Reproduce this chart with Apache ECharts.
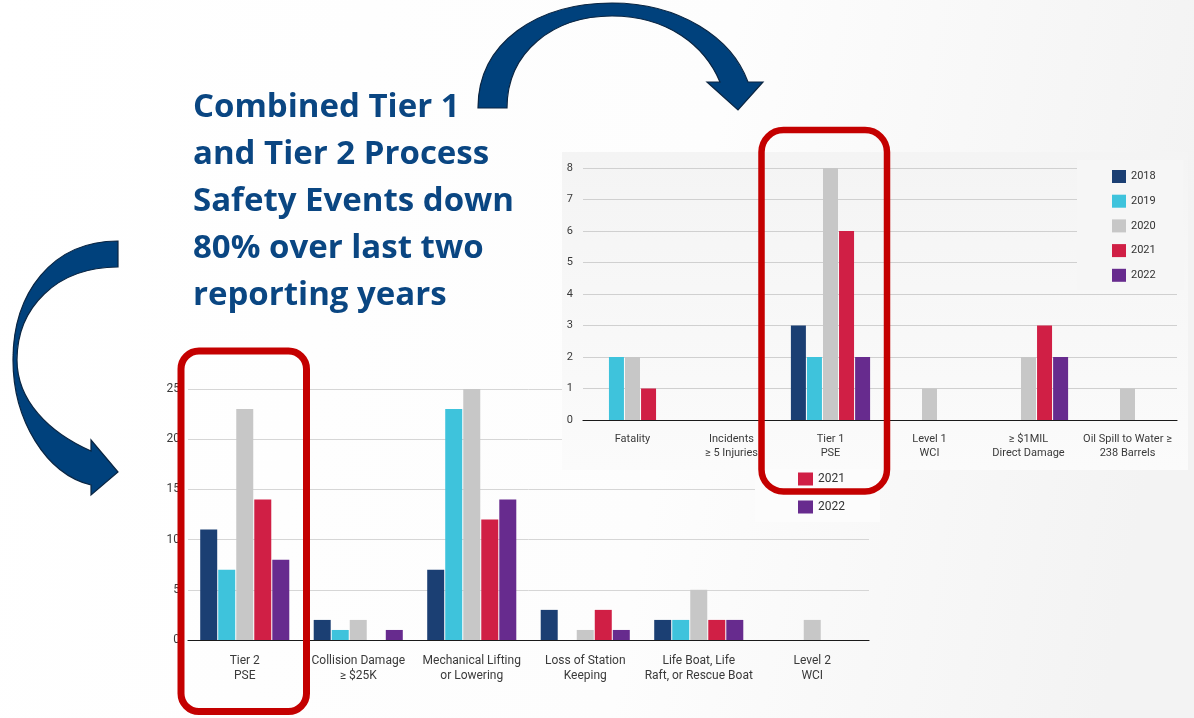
<!DOCTYPE html>
<html>
<head>
<meta charset="utf-8">
<script src="https://cdn.jsdelivr.net/npm/echarts@6/dist/echarts.min.js"></script>
<style>
html,body{margin:0;padding:0;background:#fff;}
#chart{width:1194px;height:718px;}
</style>
</head>
<body>
<div id="chart"></div>
<script>
// ---- data ----
const years = ['2018', '2019', '2020', '2021', '2022'];
const yearColors = ['#1b3f73', '#3ec3dc', '#c7c7c7', '#d01f45', '#672b8e'];

// Top chart (Tier 1 etc.)
const topCategories = ['Fatality', 'Incidents\n≥ 5 Injuries', 'Tier 1\nPSE', 'Level 1\nWCI', '≥ $1MIL\nDirect Damage', 'Oil Spill to Water ≥\n238 Barrels'];
const top2018 = [0, 0, 3, 0, 0, 0];
const top2019 = [2, 0, 2, 0, 0, 0];
const top2020 = [2, 0, 8, 1, 2, 1];
const top2021 = [1, 0, 6, 0, 3, 0];
const top2022 = [0, 0, 2, 0, 2, 0];
const topYTicks = { min: 0, max: 8, interval: 1 };

// Bottom chart (Tier 2 etc.)
const bottomCategories = ['Tier 2\nPSE', 'Collision Damage\n≥ $25K', 'Mechanical Lifting\nor Lowering', 'Loss of Station\nKeeping', 'Life Boat, Life\nRaft, or Rescue Boat', 'Level 2\nWCI'];
const bottom2018 = [11, 2, 7, 3, 2, 0];
const bottom2019 = [7, 1, 23, 0, 2, 0];
const bottom2020 = [23, 2, 25, 1, 5, 2];
const bottom2021 = [14, 0, 12, 3, 2, 0];
const bottom2022 = [8, 1, 14, 1, 2, 0];
const bottomYTicks = { min: 0, max: 25, interval: 5 };

const headline = ['Combined Tier 1', 'and Tier 2 Process', 'Safety Events down', '80% over last two', 'reporting years'];

// ---- decorative shapes ----
echarts.graphic.registerShape('arrowTop', echarts.graphic.extendPath(
  'M478,108 C478,42 538,3 612,3 C680,3 732,38 748,82 L763,82 L738,110 L707,82 L720,82 C705,46 668,16 612,16 C553,16 507,52 507,108 Z', {}));
echarts.graphic.registerShape('arrowLeft', echarts.graphic.extendPath(
  'M118,241 C52,241 13,293 13,360 C13,420 46,474 91,485 L91,495 L118,472 L91,440 L91,451 C48,432 17,400 17,360 C17,308 56,267 118,267 Z', {}));

// ---- chart ----
const chart = echarts.init(document.getElementById('chart'), null, { renderer: 'canvas' });
const topData = [top2018, top2019, top2020, top2021, top2022];
const bottomData = [bottom2018, bottom2019, bottom2020, bottom2021, bottom2022];
const FONT = 'Roboto';

const series = [];
years.forEach((y, i) => {
  series.push({
    name: y, type: 'bar', xAxisIndex: 0, yAxisIndex: 0, z: 1,
    data: bottomData[i], barWidth: 17, barGap: '6%',
    itemStyle: { color: yearColors[i] }
  });
});
years.forEach((y, i) => {
  series.push({
    name: y, type: 'bar', xAxisIndex: 1, yAxisIndex: 1, z: 5,
    data: topData[i], barWidth: 15, barGap: '7%',
    itemStyle: { color: yearColors[i] }
  });
});

const headlineEls = headline.map((t, i) => ({
  type: 'text', z: 20, x: 193, y: 108 + i * 47,
  style: { text: t, fill: '#0a4682', fontFamily: 'Open Sans', fontWeight: 'bold', fontSize: 33, verticalAlign: 'middle', align: 'left' }
}));

const arrowStyle = { fill: '#00417c', stroke: '#0a2542', lineWidth: 1.2 };

const option = {
  animation: false,
  textStyle: { fontFamily: FONT },
  grid: [
    { left: 188, top: 389, width: 681, height: 251 },
    { left: 583, top: 168, width: 594, height: 252 }
  ],
  xAxis: [
    {
      type: 'category', gridIndex: 0, data: bottomCategories, z: 0,
      axisLine: { lineStyle: { color: '#1a1a1a', width: 1.2 } },
      axisTick: { show: false },
      axisLabel: { color: '#3a3a3a', fontSize: 12, lineHeight: 15, margin: 13, interval: 0, fontFamily: FONT }
    },
    {
      type: 'category', gridIndex: 1, data: topCategories, z: 4,
      axisLine: { lineStyle: { color: '#1a1a1a', width: 1.2 } },
      axisTick: { show: false },
      axisLabel: { color: '#3a3a3a', fontSize: 11, lineHeight: 14, margin: 12, interval: 0, fontFamily: FONT }
    }
  ],
  yAxis: [
    {
      type: 'value', gridIndex: 0, z: 0,
      min: bottomYTicks.min, max: bottomYTicks.max, interval: bottomYTicks.interval,
      axisLine: { show: false }, axisTick: { show: false },
      axisLabel: { color: '#3a3a3a', fontSize: 12, margin: 8, fontFamily: FONT },
      splitLine: { lineStyle: { color: '#d6d6d6', width: 1 } }
    },
    {
      type: 'value', gridIndex: 1, z: 4,
      min: topYTicks.min, max: topYTicks.max, interval: topYTicks.interval,
      axisLine: { show: false }, axisTick: { show: false },
      axisLabel: { color: '#3a3a3a', fontSize: 11, margin: 10, fontFamily: FONT },
      splitLine: { lineStyle: { color: '#d0d0d0', width: 1 } }
    }
  ],
  legend: [
    {
      data: years, orient: 'vertical', left: 1077, top: 160, z: 6,
      padding: [10, 28, 8, 35], backgroundColor: '#f6f6f6',
      itemWidth: 14, itemHeight: 13, itemGap: 11.7,
      icon: 'rect',
      textStyle: { color: '#333', fontSize: 11, fontFamily: FONT }
    },
    {
      data: ['2021', '2022'], orient: 'vertical', left: 798, top: 472.5, z: 6,
      padding: 0,
      itemWidth: 15, itemHeight: 13, itemGap: 15,
      icon: 'rect',
      textStyle: { color: '#333', fontSize: 12, fontFamily: FONT }
    }
  ],
  series: series,
  graphic: [
    {
      type: 'rect', z: -10, silent: true,
      shape: { x: 0, y: 0, width: 1194, height: 718 },
      style: { fill: new echarts.graphic.LinearGradient(0, 0, 1, 0.3, [
        { offset: 0, color: '#ffffff' }, { offset: 0.6, color: '#fdfdfd' }, { offset: 1, color: '#f3f3f3' }
      ]) }
    },
    {
      type: 'rect', z: 3, silent: true,
      shape: { x: 562, y: 152, width: 626, height: 318 },
      style: { fill: new echarts.graphic.LinearGradient(0, 0, 0, 1, [
        { offset: 0, color: '#f4f4f4' }, { offset: 1, color: '#fbfbfb' }
      ]) }
    },
    {
      type: 'rect', z: 3, silent: true,
      shape: { x: 755, y: 469, width: 125, height: 53 },
      style: { fill: '#fcfcfc' }
    },
    {
      type: 'rect', z: 20, silent: true,
      shape: { x: 181, y: 351, width: 125.5, height: 360.5, r: 18 },
      style: { fill: 'none', stroke: '#c40000', lineWidth: 7 }
    },
    {
      type: 'rect', z: 20, silent: true,
      shape: { x: 761.5, y: 130, width: 125.5, height: 361.5, r: 22 },
      style: { fill: 'none', stroke: '#c40000', lineWidth: 6.5 }
    },
    { type: 'arrowTop', z: 20, silent: true, style: arrowStyle },
    { type: 'arrowLeft', z: 20, silent: true, style: arrowStyle }
  ].concat(headlineEls)
};
chart.setOption(option);
</script>
</body>
</html>
